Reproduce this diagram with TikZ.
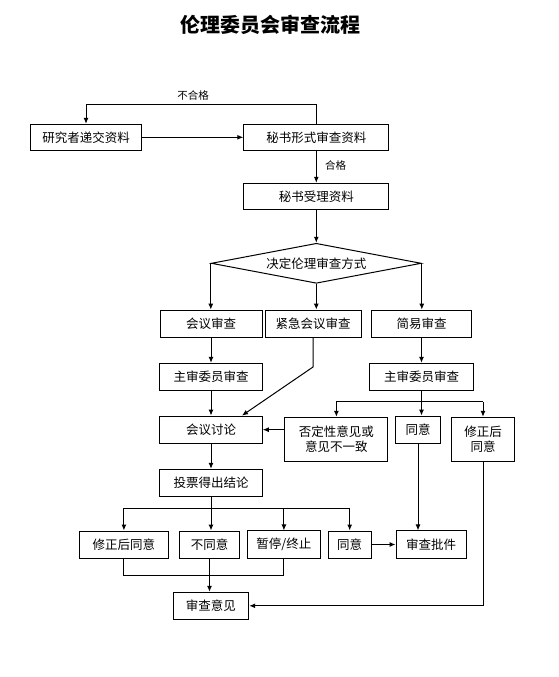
\documentclass[tikz,border=0pt]{standalone}
\usepackage{fontspec}
\setmainfont{Noto Sans CJK SC}
\usetikzlibrary{arrows.meta,shapes.geometric}
\begin{document}
\begin{tikzpicture}[x=1pt,y=-1pt,
  box/.style={draw,line width=1pt,inner sep=0pt,font=\fontsize{12.5}{15}\selectfont},
  lbl/.style={inner sep=0pt,font=\fontsize{10.5}{12}\selectfont},
  arr/.style={line width=1pt,-{Latex[length=6pt,width=5pt]}},
  ln/.style={line width=1pt}]
\useasboundingbox (0,0) rectangle (559,677);
\node[inner sep=0pt,font=\fontsize{20}{24}\selectfont\bfseries] (title) at (270,25) {伦理委员会审查流程};
\node[box,minimum width=111pt,minimum height=26pt] (sub) at (86,137.3) {研究者递交资料};
\node[box,minimum width=145pt,minimum height=26pt] (form) at (316.3,137.3) {秘书形式审查资料};
\node[box,minimum width=145pt,minimum height=26pt] (acc) at (316.3,196.3) {秘书受理资料};
\node[box,diamond,aspect=5.25,minimum width=210pt,minimum height=40pt] (dia) at (316.3,263.3) {决定伦理审查方式};
\node[box,minimum width=102pt,minimum height=27pt] (m1) at (211,323.6) {会议审查};
\node[box,minimum width=96pt,minimum height=27pt] (urg) at (313,323.6) {紧急会议审查};
\node[box,minimum width=100pt,minimum height=27pt] (simp) at (421.5,323.6) {简易审查};
\node[box,minimum width=102.6pt,minimum height=27pt] (mr1) at (211,376.8) {主审委员审查};
\node[box,minimum width=103.6pt,minimum height=27pt] (mr2) at (421.5,376.8) {主审委员审查};
\node[box,minimum width=102.5pt,minimum height=27.3pt] (disc) at (211,429.7) {会议讨论};
\node[box,minimum width=103pt,minimum height=44.4pt,align=center] (neg) at (336.4,439.5) {否定性意见或\\意见不一致};
\node[box,minimum width=45.6pt,minimum height=27.3pt] (agr) at (418,429.7) {同意};
\node[box,minimum width=62.7pt,minimum height=44.4pt,align=center] (mod) at (483,439.5) {修正后\\同意};
\node[box,minimum width=102.6pt,minimum height=27pt] (vote) at (211,482.8) {投票得出结论};
\node[box,minimum width=88.5pt,minimum height=27pt] (rmod) at (123.9,544.5) {修正后同意};
\node[box,minimum width=60.6pt,minimum height=27pt] (rno) at (209.5,544.5) {不同意};
\node[box,minimum width=72.4pt,minimum height=27.5pt] (rpause) at (283.9,544.7) {暂停/终止};
\node[box,minimum width=43.3pt,minimum height=27pt] (ryes) at (349.7,544.5) {同意};
\node[box,minimum width=70pt,minimum height=27.5pt] (appr) at (431,544.7) {审查批件};
\node[box,minimum width=75.6pt,minimum height=27pt] (opin) at (210.9,605.8) {审查意见};
% labels
\node[lbl] (nq) at (193,95) {不合格};
\node[lbl] (q) at (335.5,165) {合格};
% connectors
\draw[arr] (form.north) -- ++(0,-19) -| (sub.north);
\draw[arr] (sub.east) -- (form.west);
\draw[arr] (form.south) -- (acc.north);
\draw[arr] (acc.south) -- (dia.north);
\draw[arr] (dia.west) -- (dia.west |- m1.north);
\draw[arr] (dia.south) -- (dia.south |- urg.north);
\draw[arr] (dia.east) -- (dia.east |- simp.north);
\draw[arr] (m1.south) -- (mr1.north);
\draw[arr] (simp.south) -- (simp.south |- mr2.north);
\draw[arr] (urg.south) -- ++(0,29.4) -- ([xshift=31pt]disc.north);
\draw[arr] (mr1.south) -- (mr1.south |- disc.north);
\draw[ln] (mr2.south) -- ++(0,11) coordinate (b2);
\draw[ln] (neg.north |- b2) -- (mod.north |- b2);
\draw[arr] (neg.north |- b2) -- (neg.north);
\draw[arr] (b2) -- (b2 |- agr.north);
\draw[arr] (mod.north |- b2) -- (mod.north);
\draw[arr] (neg.west |- disc.east) -- (disc.east);
\draw[arr] (disc.south) -- (disc.south |- vote.north);
\draw[ln] (vote.south) -- ++(0,11.5) coordinate (b4);
\draw[ln] (rmod.north |- b4) -- (ryes.north |- b4);
\draw[arr] (rmod.north |- b4) -- (rmod.north);
\draw[arr] (b4) -- (b4 |- rno.north);
\draw[arr] (rpause.north |- b4) -- (rpause.north);
\draw[arr] (ryes.north |- b4) -- (ryes.north);
\draw[arr] (ryes.east) -- (ryes.east -| appr.west);
\draw[arr] (agr.south) -- (agr.south |- appr.north);
\draw[ln] (rmod.south) -- ++(0,17.3) -| (rpause.south);
\draw[arr] (rno.south) -- (rno.south |- opin.north);
\draw[arr] (mod.south) |- (opin.east);
\end{tikzpicture}
\end{document}
